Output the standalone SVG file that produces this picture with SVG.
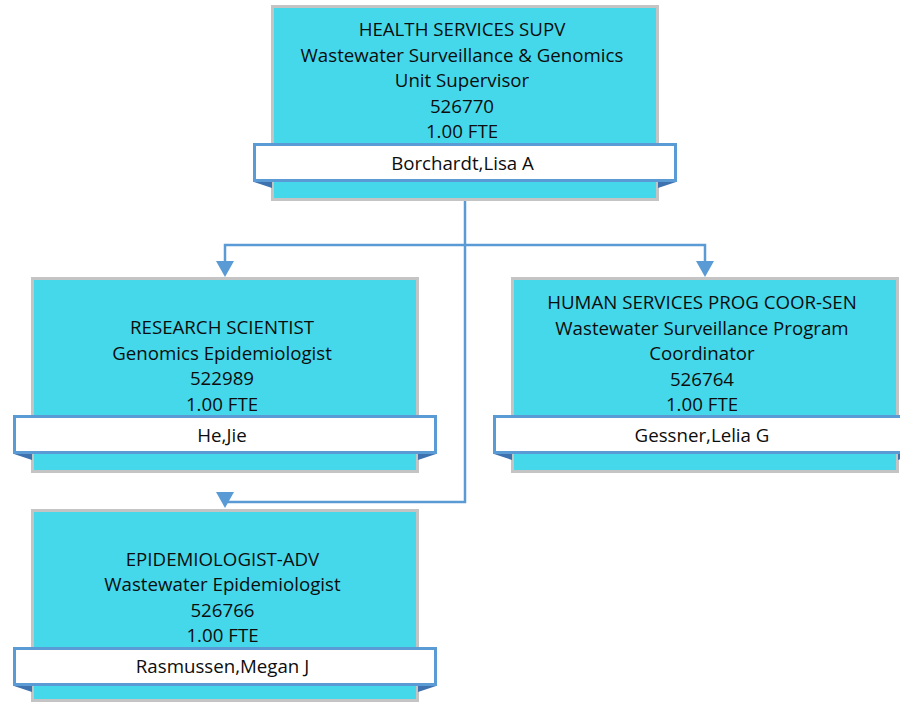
<svg xmlns="http://www.w3.org/2000/svg" width="900" height="703" viewBox="0 0 900 703">
<style>
.box{fill:#45D8EB;stroke:#C4C4C4;stroke-width:3}
.bar{fill:#FFFFFF;stroke:#5B9BD5;stroke-width:3}
.fold{fill:#3D72AE}
.t{font-family:"Open Sans","Liberation Sans",sans-serif;font-size:18.7px;fill:#0d0d0d;text-anchor:middle}
.conn{fill:none;stroke:#5B9BD5;stroke-width:2.5}
.head{fill:#5B9BD5}
</style>
<rect width="900" height="703" fill="#FFFFFF"/>
<g id="connectors">
<path class="conn" d="M465,200 V502 H225 V494"/>
<path class="conn" d="M225,262 V245 H705 V262"/>
<polygon class="head" points="216,261 234,261 225,277"/>
<polygon class="head" points="696,261 714,261 705,277"/>
<polygon class="head" points="216,492 234,492 225,508"/>
</g>
<g id="node-supv">
<rect class="box" x="272.5" y="6.5" width="385" height="193"/>
<text class="t" x="462" y="36">HEALTH SERVICES SUPV</text>
<text class="t" x="462" y="61.5">Wastewater Surveillance &amp; Genomics</text>
<text class="t" x="462" y="87">Unit Supervisor</text>
<text class="t" x="462" y="112.5">526770</text>
<text class="t" x="462" y="138">1.00 FTE</text>
<polygon class="fold" points="254,182 272,182 272,188"/>
<polygon class="fold" points="658,182 676,182 658,188"/>
<rect class="bar" x="254.5" y="144.5" width="421" height="36"/>
<text class="t" x="462.5" y="170">Borchardt,Lisa A</text>
</g>
<g id="node-research">
<rect class="box" x="32.5" y="278.5" width="385" height="193"/>
<text class="t" x="222" y="334">RESEARCH SCIENTIST</text>
<text class="t" x="222" y="359.5">Genomics Epidemiologist</text>
<text class="t" x="222" y="385">522989</text>
<text class="t" x="222" y="410.5">1.00 FTE</text>
<polygon class="fold" points="14,454 32,454 32,460"/>
<polygon class="fold" points="418,454 436,454 418,460"/>
<rect class="bar" x="14.5" y="416.5" width="421" height="36"/>
<text class="t" x="222" y="441.7">He,Jie</text>
</g>
<g id="node-coord">
<rect class="box" x="512.5" y="278.5" width="385" height="193"/>
<text class="t" x="702" y="309">HUMAN SERVICES PROG COOR-SEN</text>
<text class="t" x="702" y="334.5">Wastewater Surveillance Program</text>
<text class="t" x="702" y="360">Coordinator</text>
<text class="t" x="702" y="385.5">526764</text>
<text class="t" x="702" y="411">1.00 FTE</text>
<polygon class="fold" points="494,454 512,454 512,460"/>
<polygon class="fold" points="898,454 916,454 898,460"/>
<rect class="bar" x="494.5" y="416.5" width="421" height="36"/>
<text class="t" x="702" y="441.7">Gessner,Lelia G</text>
</g>
<g id="node-epi">
<rect class="box" x="32.5" y="510.5" width="385" height="190"/>
<text class="t" x="222.5" y="566">EPIDEMIOLOGIST-ADV</text>
<text class="t" x="222.5" y="591">Wastewater Epidemiologist</text>
<text class="t" x="222.5" y="616.5">526766</text>
<text class="t" x="222.5" y="642">1.00 FTE</text>
<polygon class="fold" points="14,686 32,686 32,692"/>
<polygon class="fold" points="418,686 436,686 418,692"/>
<rect class="bar" x="14.5" y="648.5" width="421" height="36"/>
<text class="t" x="222.5" y="673.3">Rasmussen,Megan J</text>
</g>
</svg>
